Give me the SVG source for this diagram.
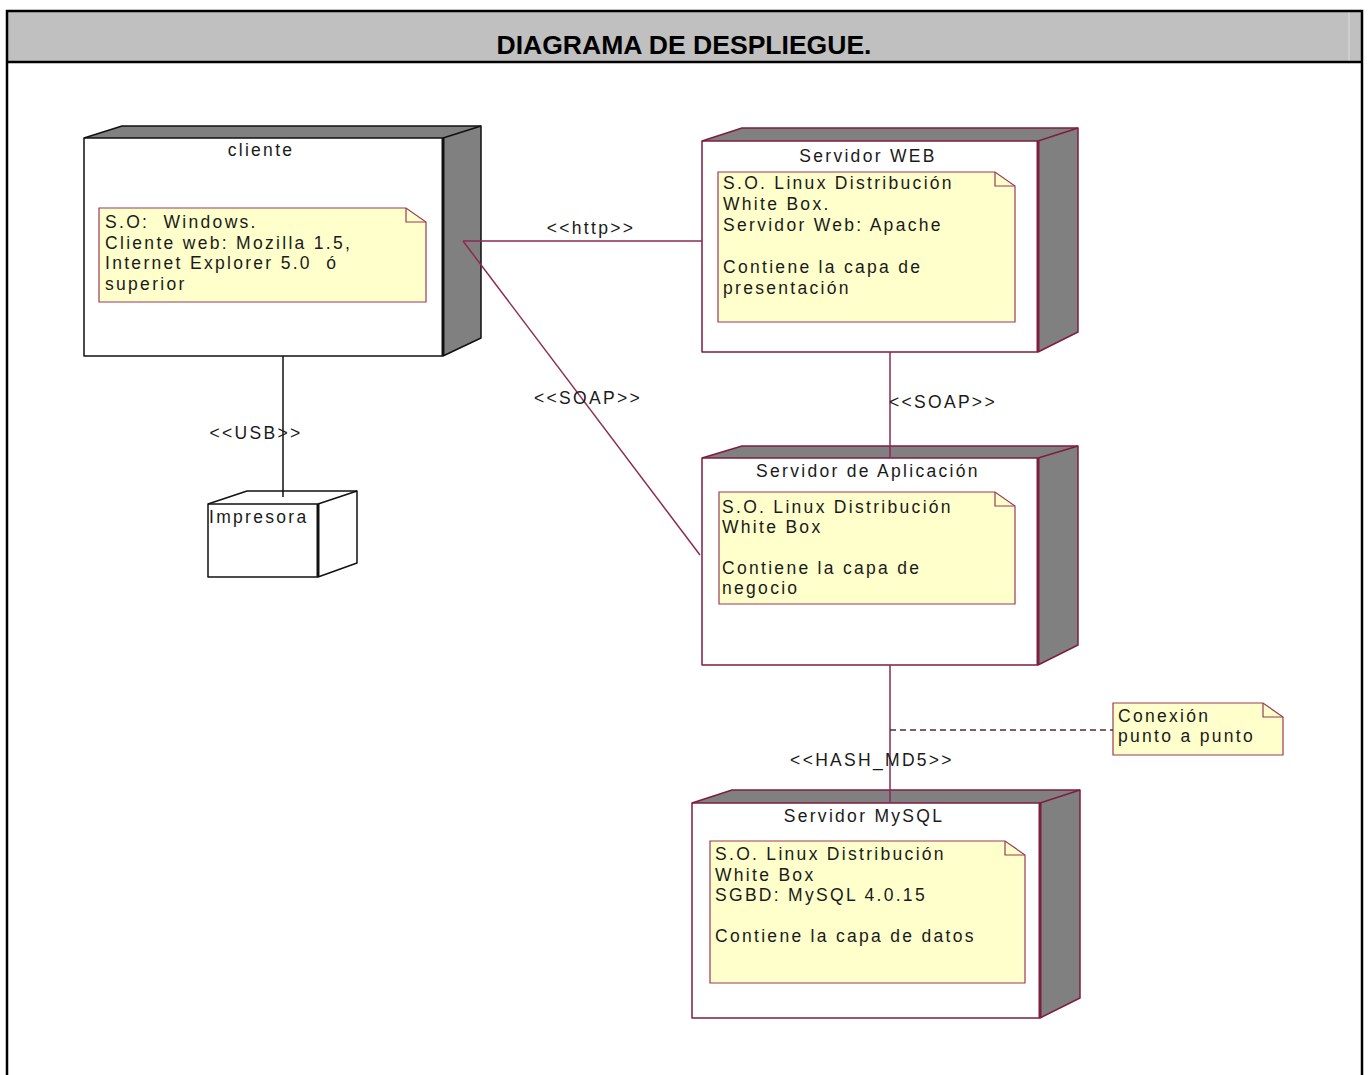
<svg xmlns="http://www.w3.org/2000/svg" width="1369" height="1075" viewBox="0 0 1369 1075">
  <style>
    .frame { fill: none; stroke: #000; stroke-width: 2.5; }
    .face { fill: #808080; }
    .front { fill: #fff; }
    .edge-k { fill: none; stroke: #111; stroke-width: 1.5; stroke-linejoin: round; }
    .edge-m { fill: none; stroke: #7f1d3f; stroke-width: 1.5; stroke-linejoin: round; }
    .thick-k { stroke: #111; stroke-width: 3; }
    .thick-m { stroke: #7f1d3f; stroke-width: 3; }
    .note { fill: #ffffcc; stroke: #9a3a56; stroke-width: 1.2; }
    .fold { fill: none; stroke: #9a3a56; stroke-width: 1.2; }
    .t { font-family: "Liberation Sans", Arial, sans-serif; font-size: 17.5px; letter-spacing: 2.3px; fill: #1a1a1a; }
    .mid { text-anchor: middle; }
    .link { fill: none; stroke: #8b2a52; stroke-width: 1.5; }
    .usb { fill: none; stroke: #111; stroke-width: 1.5; }
    .dash { fill: none; stroke: #5a2a3a; stroke-width: 1.3; stroke-dasharray: 6 4; }
  </style>

  <!-- table frame with grey title row -->
  <g id="frame">
    <rect x="7" y="11" width="1355" height="51" fill="#c0c0c0"/>
    <line x1="1349" y1="12" x2="1349" y2="61" stroke="#dcdcdc" stroke-width="1"/>
    <path class="frame" d="M7 1075 V11 H1362 V1075 M7 62 H1362"/>
    <text x="684" y="54" text-anchor="middle" font-family="'Liberation Sans', Arial, sans-serif" font-weight="bold" font-size="25" fill="#000" textLength="375" lengthAdjust="spacingAndGlyphs">DIAGRAMA DE DESPLIEGUE.</text>
  </g>

  <!-- node: cliente -->
  <g id="node-cliente">
    <polygon class="face" points="84,138 122,126 481,126 443,138"/>
    <polygon class="face" points="443,138 481,126 481,338 443,356"/>
    <rect class="front" x="84" y="138" width="359" height="218"/>
    <polygon class="edge-k" points="84,138 122,126 481,126 481,338 443,356 84,356"/>
    <line class="edge-k" x1="84" y1="138" x2="443" y2="138"/>
    <line class="thick-k" x1="443" y1="138" x2="443" y2="356"/>
    <line class="edge-k" x1="443" y1="138" x2="481" y2="126"/>
    <text class="t mid" x="261" y="156">cliente</text>
    <path class="note" d="M99 208 H406 L426 222 V302 H99 Z"/>
    <path class="fold" d="M406 208 V222 H426"/>
    <text class="t" x="105" y="228" xml:space="preserve">S.O:  Windows.</text>
    <text class="t" x="105" y="249">Cliente web: Mozilla 1.5,</text>
    <text class="t" x="105" y="269" xml:space="preserve">Internet Explorer 5.0  ó</text>
    <text class="t" x="105" y="290">superior</text>
  </g>

  <!-- node: Impresora -->
  <g id="node-impresora">
    <polygon fill="#fff" points="208,504 247,491 357,491 357,563 318,577 208,577"/>
    <polygon class="edge-k" points="208,504 247,491 357,491 357,563 318,577 208,577"/>
    <line class="edge-k" x1="208" y1="504" x2="318" y2="504"/>
    <line class="edge-k" x1="318" y1="504" x2="357" y2="491"/>
    <line class="thick-k" x1="318" y1="504" x2="318" y2="577"/>
    <text class="t" x="209" y="523">Impresora</text>
  </g>

  <!-- node: Servidor WEB -->
  <g id="node-servidor-web">
    <polygon class="face" points="702,141 742,128 1078,128 1038,141"/>
    <polygon class="face" points="1038,141 1078,128 1078,332 1038,352"/>
    <rect class="front" x="702" y="141" width="336" height="211"/>
    <polygon class="edge-m" points="702,141 742,128 1078,128 1078,332 1038,352 702,352"/>
    <line class="edge-m" x1="702" y1="141" x2="1038" y2="141"/>
    <line class="edge-m" x1="1038" y1="141" x2="1078" y2="128"/>
    <line class="thick-m" x1="1038" y1="141" x2="1038" y2="352"/>
    <text class="t mid" x="868" y="162">Servidor WEB</text>
    <path class="note" d="M718 172 H995 L1015 186 V322 H718 Z"/>
    <path class="fold" d="M995 172 V186 H1015"/>
    <text class="t" x="723" y="189">S.O. Linux Distribución</text>
    <text class="t" x="723" y="210">White Box.</text>
    <text class="t" x="723" y="231">Servidor Web: Apache</text>
    <text class="t" x="723" y="273">Contiene la capa de</text>
    <text class="t" x="723" y="294">presentación</text>
  </g>

  <!-- node: Servidor de Aplicación -->
  <g id="node-servidor-aplicacion">
    <polygon class="face" points="702,458 742,446 1078,446 1038,458"/>
    <polygon class="face" points="1038,458 1078,446 1078,645 1038,665"/>
    <rect class="front" x="702" y="458" width="336" height="207"/>
    <polygon class="edge-m" points="702,458 742,446 1078,446 1078,645 1038,665 702,665"/>
    <line class="edge-m" x1="702" y1="458" x2="1038" y2="458"/>
    <line class="edge-m" x1="1038" y1="458" x2="1078" y2="446"/>
    <line class="thick-m" x1="1038" y1="458" x2="1038" y2="665"/>
    <text class="t mid" x="868" y="477">Servidor de Aplicación</text>
    <path class="note" d="M719 492 H995 L1015 506 V604 H719 Z"/>
    <path class="fold" d="M995 492 V506 H1015"/>
    <text class="t" x="722" y="513">S.O. Linux Distribución</text>
    <text class="t" x="722" y="533">White Box</text>
    <text class="t" x="722" y="574">Contiene la capa de</text>
    <text class="t" x="722" y="594">negocio</text>
  </g>

  <!-- node: Servidor MySQL -->
  <g id="node-servidor-mysql">
    <polygon class="face" points="692,803 732,790 1080,790 1040,803"/>
    <polygon class="face" points="1040,803 1080,790 1080,998 1040,1018"/>
    <rect class="front" x="692" y="803" width="348" height="215"/>
    <polygon class="edge-m" points="692,803 732,790 1080,790 1080,998 1040,1018 692,1018"/>
    <line class="edge-m" x1="692" y1="803" x2="1040" y2="803"/>
    <line class="edge-m" x1="1040" y1="803" x2="1080" y2="790"/>
    <line class="thick-m" x1="1040" y1="803" x2="1040" y2="1018"/>
    <text class="t mid" x="864" y="822">Servidor MySQL</text>
    <path class="note" d="M710 841 H1005 L1025 855 V983 H710 Z"/>
    <path class="fold" d="M1005 841 V855 H1025"/>
    <text class="t" x="715" y="860">S.O. Linux Distribución</text>
    <text class="t" x="715" y="881">White Box</text>
    <text class="t" x="715" y="901">SGBD: MySQL 4.0.15</text>
    <text class="t" x="715" y="942">Contiene la capa de datos</text>
  </g>

  <!-- free note -->
  <g id="note-conexion">
    <path class="note" d="M1113 703 H1263 L1283 717 V755 H1113 Z"/>
    <path class="fold" d="M1263 703 V717 H1283"/>
    <text class="t" x="1118" y="722">Conexión</text>
    <text class="t" x="1118" y="742">punto a punto</text>
  </g>

  <!-- connectors -->
  <g id="connectors">
    <line class="link" x1="463" y1="241" x2="702" y2="241"/>
    <line class="link" x1="463" y1="241" x2="700" y2="555"/>
    <line class="link" x1="890" y1="352" x2="890" y2="458"/>
    <line class="link" x1="890" y1="665" x2="890" y2="803"/>
    <line class="usb" x1="283" y1="356" x2="283" y2="497"/>
    <line class="dash" x1="890" y1="730" x2="1113" y2="730"/>
    <text class="t mid" x="591" y="234">&lt;&lt;http&gt;&gt;</text>
    <text class="t mid" x="588" y="404">&lt;&lt;SOAP&gt;&gt;</text>
    <text class="t" x="889" y="408">&lt;&lt;SOAP&gt;&gt;</text>
    <text class="t mid" x="256" y="439">&lt;&lt;USB&gt;&gt;</text>
    <text class="t mid" x="872" y="766">&lt;&lt;HASH_MD5&gt;&gt;</text>
  </g>
</svg>
